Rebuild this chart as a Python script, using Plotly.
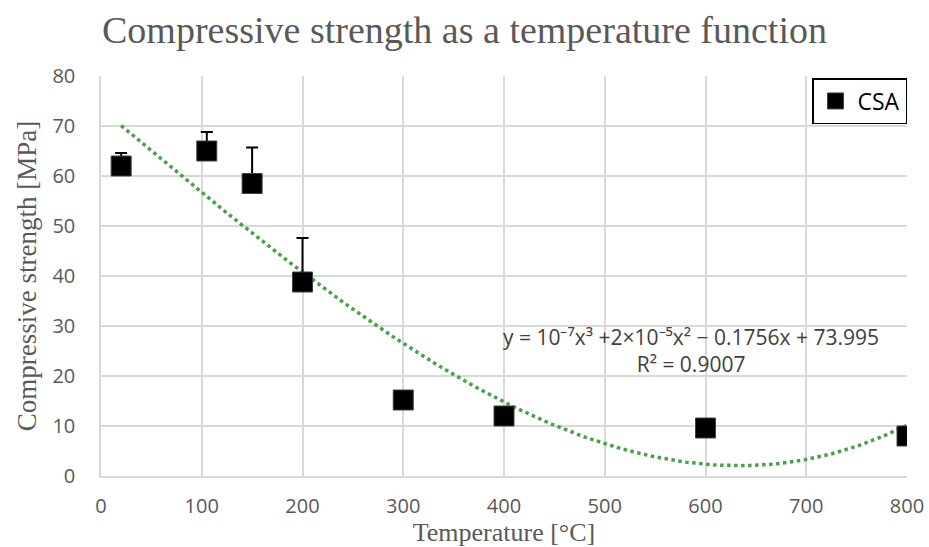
import numpy as np
import plotly.graph_objects as go

# Data
temperature = [20, 105, 150, 200, 300, 400, 600, 800]
strength = [62.0, 65.0, 58.5, 38.8, 15.2, 12.0, 9.6, 8.0]
err_plus = [2.6, 3.8, 7.2, 8.8, 0, 0, 0, 0]
series_name = "CSA"
equation_text = "y = 10⁻⁷x³ +2×10⁻⁵x² − 0.1756x + 73.995"
r2_text = "R² = 0.9007"

# Polynomial trendline (order 3) fitted to the data
coef = np.polyfit(temperature, strength, 3)
x_fit = np.linspace(min(temperature), max(temperature), 200)
y_fit = np.polyval(coef, x_fit)

grey = "#595959"
fig = go.Figure()
fig.add_trace(go.Scatter(
    x=x_fit, y=y_fit, mode="lines", showlegend=False, hoverinfo="skip",
    line=dict(color="#48A048", width=3.5, dash="dot"),
))
fig.add_trace(go.Scatter(
    x=temperature, y=strength, mode="markers", name=series_name,
    marker=dict(symbol="square", size=20, color="black",
                line=dict(color="#404040", width=1)),
    error_y=dict(type="data", array=err_plus, arrayminus=[0]*len(err_plus),
                 symmetric=False, color="black", thickness=2, width=6),
))

fig.add_annotation(x=0.732, y=0.313, xref="paper", yref="paper",
                   xanchor="center", yanchor="middle",
                   text=equation_text + "<br>" + r2_text, showarrow=False,
                   align="center", font=dict(family="Open Sans", size=21, color="#404040"))

fig.update_layout(
    width=929, height=547,
    margin=dict(l=101, r=22, t=76, b=71),
    paper_bgcolor="white", plot_bgcolor="white",
    title=dict(text="Compressive strength as a temperature function",
               x=0.5, xanchor="center", y=0.945, yanchor="middle",
               font=dict(family="Liberation Serif", size=38, color=grey)),
    xaxis=dict(range=[0, 800], dtick=100, tick0=0, showgrid=True, automargin=False,
               gridcolor="#D9D9D9", gridwidth=1.5, zeroline=False,
               showline=True, linecolor="#D9D9D9", linewidth=1.5,
               ticks="", ticklabelstandoff=11,
               tickfont=dict(family="Open Sans", size=20, color=grey),
               title=dict(text="Temperature [°C]", standoff=7,
                          font=dict(family="Liberation Serif", size=26, color=grey))),
    yaxis=dict(range=[0, 80], dtick=10, tick0=0, showgrid=True, automargin=False,
               gridcolor="#D9D9D9", gridwidth=1.5, zeroline=False,
               showline=True, linecolor="#D9D9D9", linewidth=1.5,
               ticks="", ticklabelstandoff=20,
               tickfont=dict(family="Open Sans", size=20, color=grey),
               title=dict(text="Compressive strength [MPa]", standoff=8,
                          font=dict(family="Liberation Serif", size=27, color=grey))),
    legend=dict(x=1, y=0.995, xanchor="right", yanchor="top",
                bordercolor="black", borderwidth=1.5, bgcolor="white",
                font=dict(family="Open Sans", size=23, color="black"),
                itemwidth=34),
)

fig.write_html("out.html")
